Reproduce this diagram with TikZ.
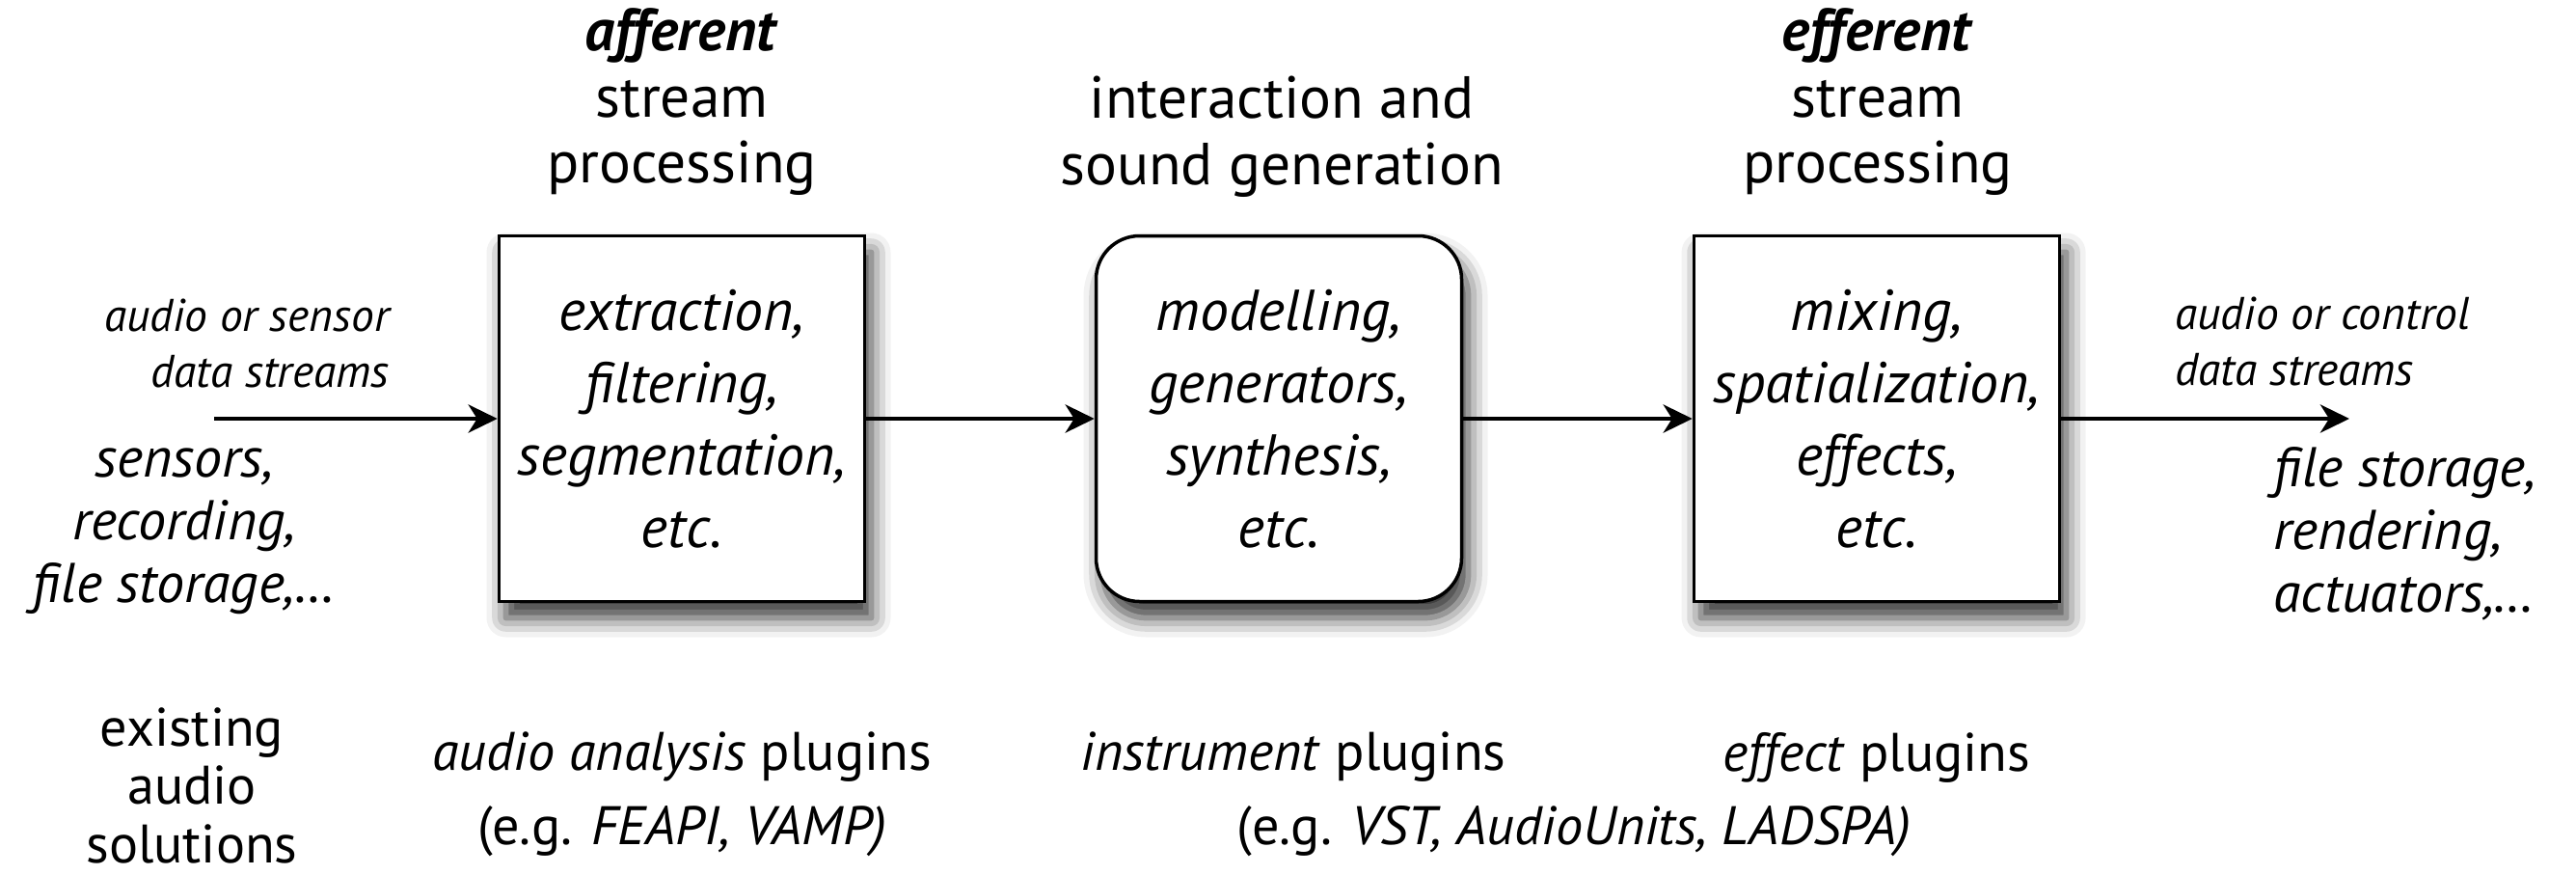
\documentclass[tikz,border=0pt]{standalone}
\usepackage{fontspec}
\setmainfont{PT Sans}
\usetikzlibrary{arrows.meta,positioning,shadows.blur}

\tikzset{
  stage/.style={draw, line width=1pt, fill=white, minimum width=3.79cm, minimum height=3.79cm, align=center,
    font=\fontsize{17}{21.3}\selectfont\itshape,
    blur shadow={shadow xshift=0.7mm, shadow yshift=-1.7mm, shadow blur radius=2mm, shadow opacity=80}},
  heading/.style={align=center, font=\fontsize{17.5}{19.5}\selectfont},
  streamlabel/.style={font=\fontsize{13.5}{16.4}\selectfont\itshape},
  endlist/.style={font=\fontsize{16.5}{18.5}\selectfont\itshape},
  pluginlabel/.style={align=center, font=\fontsize{16}{17.6}\selectfont},
  flow/.style={->, line width=1.4pt},
}

\begin{document}
\begin{tikzpicture}[>={Stealth[length=3mm, width=2.9mm, inset=0.9mm]}]
	\useasboundingbox (0,0) rectangle (26.71,-9.06);
	\node[heading] (t1) at (7.07,-1.06) {\textbf{\textit{afferent}}\\stream\\processing};
	\node[heading] (t2) at (13.29,-1.42) {interaction and\\sound generation};
	\node[heading] (t3) at (19.47,-1.06) {\textbf{\textit{efferent}}\\stream\\processing};
	\node[stage] (b1) at (7.07,-4.34) {extraction,\\filtering,\\segmentation,\\etc.};
	\node[stage, rounded corners=0.45cm] (b2) at (13.26,-4.34) {modelling,\\generators,\\synthesis,\\etc.};
	\node[stage] (b3) at (19.46,-4.34) {mixing,\\spatialization,\\effects,\\etc.};
	\coordinate (src) at (2.22,-4.34);
	\coordinate (sink) at (24.36,-4.34);
	\draw[flow] (src) -- (b1.west);
	\draw[flow] (b1.east) -- (b2.west);
	\draw[flow] (b2.east) -- (b3.west);
	\draw[flow] (b3.east) -- (sink);
	\node[streamlabel, align=right, anchor=east] (inlabel) at (4.16,-3.56) {audio or sensor\\data streams};
	\node[streamlabel, align=left, anchor=west] (outlabel) at (22.43,-3.54) {audio or control\\data streams};
	\node[endlist, align=center] (sources) at (1.91,-5.51) {sensors,\\recording,\\file storage,\ldots};
	\node[endlist, align=left, anchor=west] (sinks) at (23.45,-5.53) {file storage,\\rendering,\\actuators,\ldots};
	\node[pluginlabel, font=\fontsize{16}{17.2}\selectfont] (existing) at (1.99,-8.14) {existing\\audio\\solutions};
	\node[pluginlabel] (p1) at (7.07,-7.85) {\textit{audio analysis} plugins};
	\node[pluginlabel] (e1) at (7.07,-8.62) {(e.g. \textit{FEAPI, VAMP)}};
	\node[pluginlabel] (p2) at (13.41,-7.85) {\textit{instrument} plugins};
	\node[pluginlabel] (p3) at (19.46,-7.85) {\textit{effect} plugins};
	\node[pluginlabel] (e2) at (16.32,-8.62) {(e.g. \textit{VST, AudioUnits, LADSPA)}};
\end{tikzpicture}
\end{document}
